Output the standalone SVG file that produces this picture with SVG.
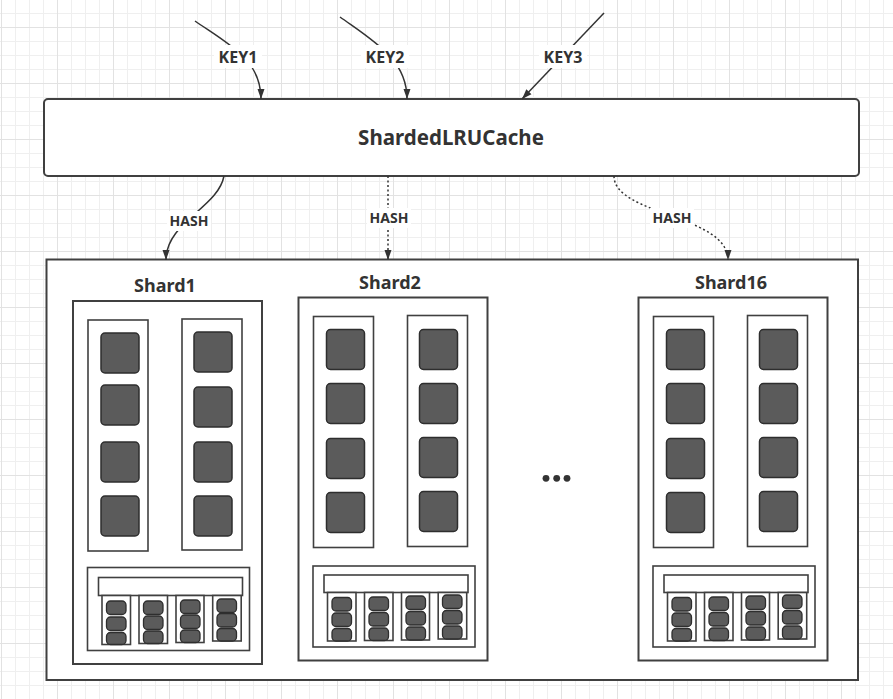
<svg xmlns="http://www.w3.org/2000/svg" width="893" height="699" viewBox="0 0 893 699">
<defs>
<style>
.box{fill:#fff;stroke:#404040;stroke-width:2}
.col{fill:#fff;stroke:#404040;stroke-width:1.6}
.blk{fill:#5b5b5b;stroke:#2e2e2e;stroke-width:1.5}
.sblk{fill:#5b5b5b;stroke:#2e2e2e;stroke-width:1.3}
.lbl{font-family:"Noto Sans","Liberation Sans",sans-serif;font-weight:bold;fill:#333;text-anchor:middle}
.conn{fill:none;stroke:#333;stroke-width:1.5}
.dot{stroke-dasharray:2 2.5}
.bg{fill:#fff}
</style>
<pattern id="grid" width="56" height="56" patternUnits="userSpaceOnUse" x="1" y="27">
<path d="M14.5,0V56M28.5,0V56M42.5,0V56M0,14.5H56M0,28.5H56M0,42.5H56" stroke="#efefef" stroke-width="1" fill="none"/>
<path d="M0.5,0V56M0,0.5H56" stroke="#e2e2e2" stroke-width="1" fill="none"/>
</pattern>
<marker id="arr" viewBox="0 0 10 10" refX="10" refY="5" markerWidth="10" markerHeight="10" orient="auto" markerUnits="userSpaceOnUse">
<path d="M0,1.5 L10,5 L0,8.5 Z" fill="#333"/>
</marker>
</defs>
<rect x="0" y="0" width="893" height="699" fill="#fff"/>
<rect x="0" y="0" width="893" height="699" fill="url(#grid)"/>

<g id="cache">
<rect class="box" x="44" y="99" width="815" height="77" rx="4"/>
<text class="lbl" x="451" y="145" font-size="20.5">ShardedLRUCache</text>
</g>

<g id="container">
<rect class="box" x="46.5" y="259.5" width="811.5" height="420.5"/>
</g>

<g id="shard1">
<text class="lbl" x="165" y="292" font-size="18">Shard1</text>
<rect class="box" x="73" y="301" width="189" height="363"/>
<rect class="col" x="88" y="320" width="60" height="231"/>
<rect class="col" x="182" y="319" width="60" height="231"/>
<rect class="blk" x="101" y="333" width="38" height="40" rx="4"/>
<rect class="blk" x="101" y="385" width="38" height="40" rx="4"/>
<rect class="blk" x="101" y="442" width="38" height="40" rx="4"/>
<rect class="blk" x="101" y="496" width="38" height="40" rx="4"/>
<rect class="blk" x="194" y="332" width="38" height="40" rx="4"/>
<rect class="blk" x="194" y="387" width="38" height="40" rx="4"/>
<rect class="blk" x="194" y="442" width="38" height="40" rx="4"/>
<rect class="blk" x="194" y="496" width="38" height="40" rx="4"/>
<rect class="col" x="87.5" y="567.5" width="162" height="83"/>
<rect class="col" x="98.5" y="577.5" width="144" height="18"/>
<rect class="col" x="102" y="595.5" width="28.5" height="49"/>
<rect class="col" x="139" y="595.5" width="28.5" height="48"/>
<rect class="col" x="176" y="595.5" width="28" height="47"/>
<rect class="col" x="212.7" y="595.5" width="28.5" height="45.5"/>
<rect class="sblk" x="106.5" y="601" width="19.5" height="13.5" rx="4"/>
<rect class="sblk" x="106.5" y="617" width="19.5" height="13.5" rx="4"/>
<rect class="sblk" x="106.5" y="632.5" width="19.5" height="12" rx="4"/>
<rect class="sblk" x="143.5" y="601" width="19.5" height="13.5" rx="4"/>
<rect class="sblk" x="143.5" y="616" width="19.5" height="13.5" rx="4"/>
<rect class="sblk" x="143.5" y="631" width="19.5" height="12.5" rx="4"/>
<rect class="sblk" x="180.5" y="600" width="19.5" height="13.5" rx="4"/>
<rect class="sblk" x="180.5" y="615" width="19.5" height="13.5" rx="4"/>
<rect class="sblk" x="180.5" y="630" width="19.5" height="12.5" rx="4"/>
<rect class="sblk" x="217" y="599" width="19.5" height="13.5" rx="4"/>
<rect class="sblk" x="217" y="613.5" width="19.5" height="13.5" rx="4"/>
<rect class="sblk" x="217" y="628.5" width="19.5" height="12.5" rx="4"/>
</g>

<g id="shard2">
<text class="lbl" x="390" y="289" font-size="18">Shard2</text>
<g transform="translate(225.5,-3.5)">
<rect class="box" x="73" y="301" width="189" height="363"/>
<rect class="col" x="88" y="320" width="60" height="231"/>
<rect class="col" x="182" y="319" width="60" height="231"/>
<rect class="blk" x="101" y="333" width="38" height="40" rx="4"/>
<rect class="blk" x="101" y="387" width="38" height="40" rx="4"/>
<rect class="blk" x="101" y="442" width="38" height="40" rx="4"/>
<rect class="blk" x="101" y="496" width="38" height="40" rx="4"/>
<rect class="blk" x="194" y="333" width="38" height="40" rx="4"/>
<rect class="blk" x="194" y="387" width="38" height="40" rx="4"/>
<rect class="blk" x="194" y="441" width="38" height="40" rx="4"/>
<rect class="blk" x="194" y="495" width="38" height="40" rx="4"/>
<rect class="col" x="87.5" y="569.5" width="162" height="81"/>
<rect class="col" x="98.5" y="578.5" width="144" height="17.5"/>
<rect class="col" x="102" y="596" width="28.5" height="48.5"/>
<rect class="col" x="139" y="596" width="28.5" height="48"/>
<rect class="col" x="176" y="596" width="28" height="47.5"/>
<rect class="col" x="212.7" y="596" width="28.5" height="46.5"/>
<rect class="sblk" x="106.5" y="601" width="19.5" height="13.5" rx="4"/>
<rect class="sblk" x="106.5" y="616.5" width="19.5" height="13.5" rx="4"/>
<rect class="sblk" x="106.5" y="632" width="19.5" height="12.5" rx="4"/>
<rect class="sblk" x="143.5" y="600.5" width="19.5" height="13.5" rx="4"/>
<rect class="sblk" x="143.5" y="616" width="19.5" height="13.5" rx="4"/>
<rect class="sblk" x="143.5" y="631.5" width="19.5" height="12.5" rx="4"/>
<rect class="sblk" x="180.5" y="599.5" width="19.5" height="13.5" rx="4"/>
<rect class="sblk" x="180.5" y="615" width="19.5" height="13.5" rx="4"/>
<rect class="sblk" x="180.5" y="630.5" width="19.5" height="13" rx="4"/>
<rect class="sblk" x="217" y="598.5" width="19.5" height="13.5" rx="4"/>
<rect class="sblk" x="217" y="614" width="19.5" height="13.5" rx="4"/>
<rect class="sblk" x="217" y="629.5" width="19.5" height="13" rx="4"/>
</g>
</g>

<g id="shard16">
<text class="lbl" x="731" y="289" font-size="18">Shard16</text>
<g transform="translate(565.5,-3.5)">
<rect class="box" x="73" y="301" width="189" height="363"/>
<rect class="col" x="88" y="320" width="60" height="231"/>
<rect class="col" x="182" y="319" width="60" height="231"/>
<rect class="blk" x="101" y="333" width="38" height="40" rx="4"/>
<rect class="blk" x="101" y="387" width="38" height="40" rx="4"/>
<rect class="blk" x="101" y="442" width="38" height="40" rx="4"/>
<rect class="blk" x="101" y="496" width="38" height="40" rx="4"/>
<rect class="blk" x="194" y="333" width="38" height="40" rx="4"/>
<rect class="blk" x="194" y="387" width="38" height="40" rx="4"/>
<rect class="blk" x="194" y="441" width="38" height="40" rx="4"/>
<rect class="blk" x="194" y="495" width="38" height="40" rx="4"/>
<rect class="col" x="87.5" y="569.5" width="162" height="81"/>
<rect class="col" x="98.5" y="578.5" width="144" height="17.5"/>
<rect class="col" x="102" y="596" width="28.5" height="48.5"/>
<rect class="col" x="139" y="596" width="28.5" height="48"/>
<rect class="col" x="176" y="596" width="28" height="47.5"/>
<rect class="col" x="212.7" y="596" width="28.5" height="46.5"/>
<rect class="sblk" x="106.5" y="601" width="19.5" height="13.5" rx="4"/>
<rect class="sblk" x="106.5" y="616.5" width="19.5" height="13.5" rx="4"/>
<rect class="sblk" x="106.5" y="632" width="19.5" height="12.5" rx="4"/>
<rect class="sblk" x="143.5" y="600.5" width="19.5" height="13.5" rx="4"/>
<rect class="sblk" x="143.5" y="616" width="19.5" height="13.5" rx="4"/>
<rect class="sblk" x="143.5" y="631.5" width="19.5" height="12.5" rx="4"/>
<rect class="sblk" x="180.5" y="599.5" width="19.5" height="13.5" rx="4"/>
<rect class="sblk" x="180.5" y="615" width="19.5" height="13.5" rx="4"/>
<rect class="sblk" x="180.5" y="630.5" width="19.5" height="13" rx="4"/>
<rect class="sblk" x="217" y="598.5" width="19.5" height="13.5" rx="4"/>
<rect class="sblk" x="217" y="614" width="19.5" height="13.5" rx="4"/>
<rect class="sblk" x="217" y="629.5" width="19.5" height="13" rx="4"/>
</g>
</g>

<g id="ellipsis" fill="#333">
<circle cx="546" cy="478.3" r="3.4"/>
<circle cx="556.7" cy="478.3" r="3.4"/>
<circle cx="567" cy="478.3" r="3.4"/>
</g>

<g id="connectors">
<path class="conn" d="M195,21 C230,45 261,60 261,99" marker-end="url(#arr)"/>
<rect class="bg" x="214" y="45" width="48" height="23"/>
<text class="lbl" x="238" y="63" font-size="16">KEY1</text>
<path class="conn" d="M340,17 C375,42 407,60 407,99" marker-end="url(#arr)"/>
<rect class="bg" x="361" y="45" width="48" height="23"/>
<text class="lbl" x="385" y="63" font-size="16">KEY2</text>
<path class="conn" d="M604,13 L522,99" marker-end="url(#arr)"/>
<rect class="bg" x="539" y="45" width="48" height="23"/>
<text class="lbl" x="563" y="63" font-size="16">KEY3</text>
<path class="conn" d="M224,176 C218,208 166,222 166,260" marker-end="url(#arr)"/>
<rect class="bg" x="167" y="211" width="44" height="20"/>
<text class="lbl" x="189" y="226" font-size="14">HASH</text>
<path class="conn dot" d="M388,176 L388,260" marker-end="url(#arr)"/>
<rect class="bg" x="367" y="208" width="44" height="20"/>
<text class="lbl" x="389" y="223" font-size="14">HASH</text>
<path class="conn dot" d="M614,176 C614,215 728,215 728,260" marker-end="url(#arr)"/>
<rect class="bg" x="650" y="208" width="44" height="20"/>
<text class="lbl" x="672" y="223" font-size="14">HASH</text>
</g>
</svg>
